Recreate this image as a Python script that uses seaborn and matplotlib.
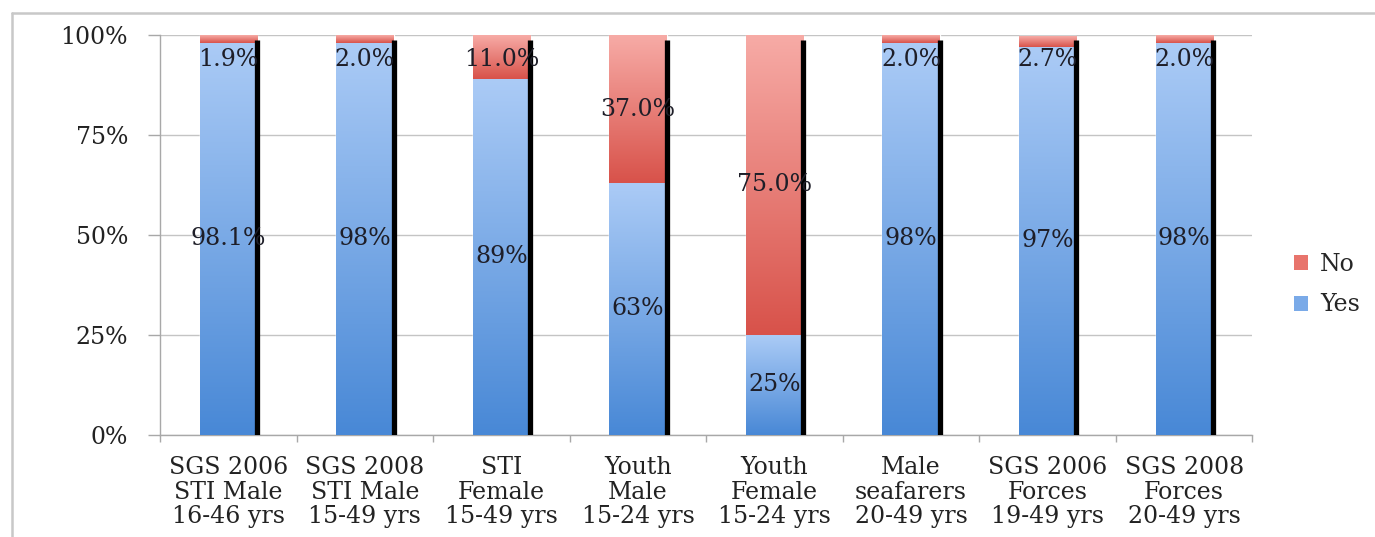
import numpy as np
import pandas as pd
import matplotlib
matplotlib.use("Agg")
import matplotlib.pyplot as plt
from matplotlib.colors import LinearSegmentedColormap
from matplotlib.patches import Patch
from matplotlib.lines import Line2D
import seaborn as sns

categories = ["SGS 2006\nSTI Male\n16-46 yrs", "SGS 2008\nSTI Male\n15-49 yrs",
              "STI\nFemale\n15-49 yrs", "Youth\nMale\n15-24 yrs",
              "Youth\nFemale\n15-24 yrs", "Male\nseafarers\n20-49 yrs",
              "SGS 2006\nForces\n19-49 yrs", "SGS 2008\nForces\n20-49 yrs"]
yes_values = [98.1, 98, 89, 63, 25, 98, 97, 98]
no_values = [1.9, 2.0, 11.0, 37.0, 75.0, 2.0, 2.7, 2.0]
yes_labels = ["98.1%", "98%", "89%", "63%", "25%", "98%", "97%", "98%"]
no_labels = ["1.9%", "2.0%", "11.0%", "37.0%", "75.0%", "2.0%", "2.7%", "2.0%"]
y_ticks = [0, 25, 50, 75, 100]
y_tick_labels = ["0%", "25%", "50%", "75%", "100%"]

sns.set_theme(style="white")
plt.rcParams['font.family'] = ['DejaVu Serif']

df = pd.DataFrame({"cat": categories, "yes": yes_values, "no": no_values})
df["total"] = df["yes"] + df["no"]

fig = plt.figure(figsize=(13.75, 5.37), dpi=100)
ax = fig.add_axes([0.1164, 0.19, 0.7945, 0.7448])

bw = 0.42
sns.barplot(data=df, x="cat", y="total", color="#e8746c", width=bw, ax=ax,
            saturation=1, zorder=2)
sns.barplot(data=df, x="cat", y="yes", color="#7aaae8", width=bw, ax=ax,
            saturation=1, zorder=2)

red_cmap = LinearSegmentedColormap.from_list("r", ["#d8524a", "#f7aba6"])
blue_cmap = LinearSegmentedColormap.from_list("b", ["#4888d6", "#abcbf6"])
n = len(categories)
grad = np.linspace(0, 1, 256).reshape(-1, 1)
for i, p in enumerate(list(ax.patches)):
    x0, y0 = p.get_x(), p.get_y()
    w, h = p.get_width(), p.get_height()
    if i < n:
        yb = df["yes"].iloc[i]
        im = ax.imshow(grad, cmap=red_cmap, origin="lower", aspect="auto",
                       extent=(x0, x0 + w, yb, y0 + h), zorder=3,
                       interpolation="bilinear")
    else:
        im = ax.imshow(grad, cmap=blue_cmap, origin="lower", aspect="auto",
                       extent=(x0, x0 + w, y0, y0 + h), zorder=4,
                       interpolation="bilinear")
    im.set_clip_path(p)

centers = np.arange(n)
ax.vlines(centers + bw / 2, 0, 98.7, color="black", lw=3.8, zorder=6)

ax.set_xlim(-0.5, n - 0.5)
ax.set_ylim(0, 100)
ax.set_yticks(y_ticks)
ax.set_yticklabels(y_tick_labels, fontsize=17, color="#222222")
ax.set_xticks(centers)
ax.set_xticklabels(categories, fontsize=17, color="#222222", linespacing=1.1)
ax.set_xticks(np.arange(-0.5, n, 1), minor=True)
ax.tick_params(axis="x", which="major", length=0, pad=15)
ax.tick_params(axis="x", which="minor", length=5, color="#a8a8a8", width=1, direction="out", bottom=True)
ax.tick_params(axis="y", length=9, color="#a8a8a8", width=1, direction="out", pad=14, left=True)
ax.set_xlabel("")
ax.set_ylabel("")
ax.yaxis.grid(True, color="#c4c4c4", lw=1)
ax.set_axisbelow(True)
for s in ["top", "right"]:
    ax.spines[s].set_visible(False)
for s in ["left", "bottom"]:
    ax.spines[s].set_color("#a8a8a8")
    ax.spines[s].set_linewidth(1)

for i in range(n):
    yv = yes_values[i]
    nv = no_values[i]
    ax.text(i, yv / 2, yes_labels[i], ha="center", va="center", fontsize=17,
            color="#1e1e28", zorder=7)
    ax.text(i, min(yv + nv / 2, 94.0), no_labels[i], ha="center", va="center",
            fontsize=17, color="#1e1e28", zorder=7)

handles = [Patch(facecolor="#e8746c", edgecolor="none", label="No"),
           Patch(facecolor="#7aaae8", edgecolor="none", label="Yes")]
fig.legend(handles=handles, loc="center left", bbox_to_anchor=(0.929, 0.47),
           frameon=False, fontsize=17, handlelength=0.6, handleheight=0.6,
           handletextpad=0.5, labelspacing=0.75, borderpad=0.2)

fig.add_artist(Line2D([12 / 1375, 1.0], [1 - 13 / 537, 1 - 13 / 537],
                      transform=fig.transFigure, color="#c8c8c8", lw=1.8))
fig.add_artist(Line2D([12 / 1375, 12 / 1375], [0, 1 - 13 / 537],
                      transform=fig.transFigure, color="#c8c8c8", lw=1.8))

fig.savefig("out.png", dpi=100)
